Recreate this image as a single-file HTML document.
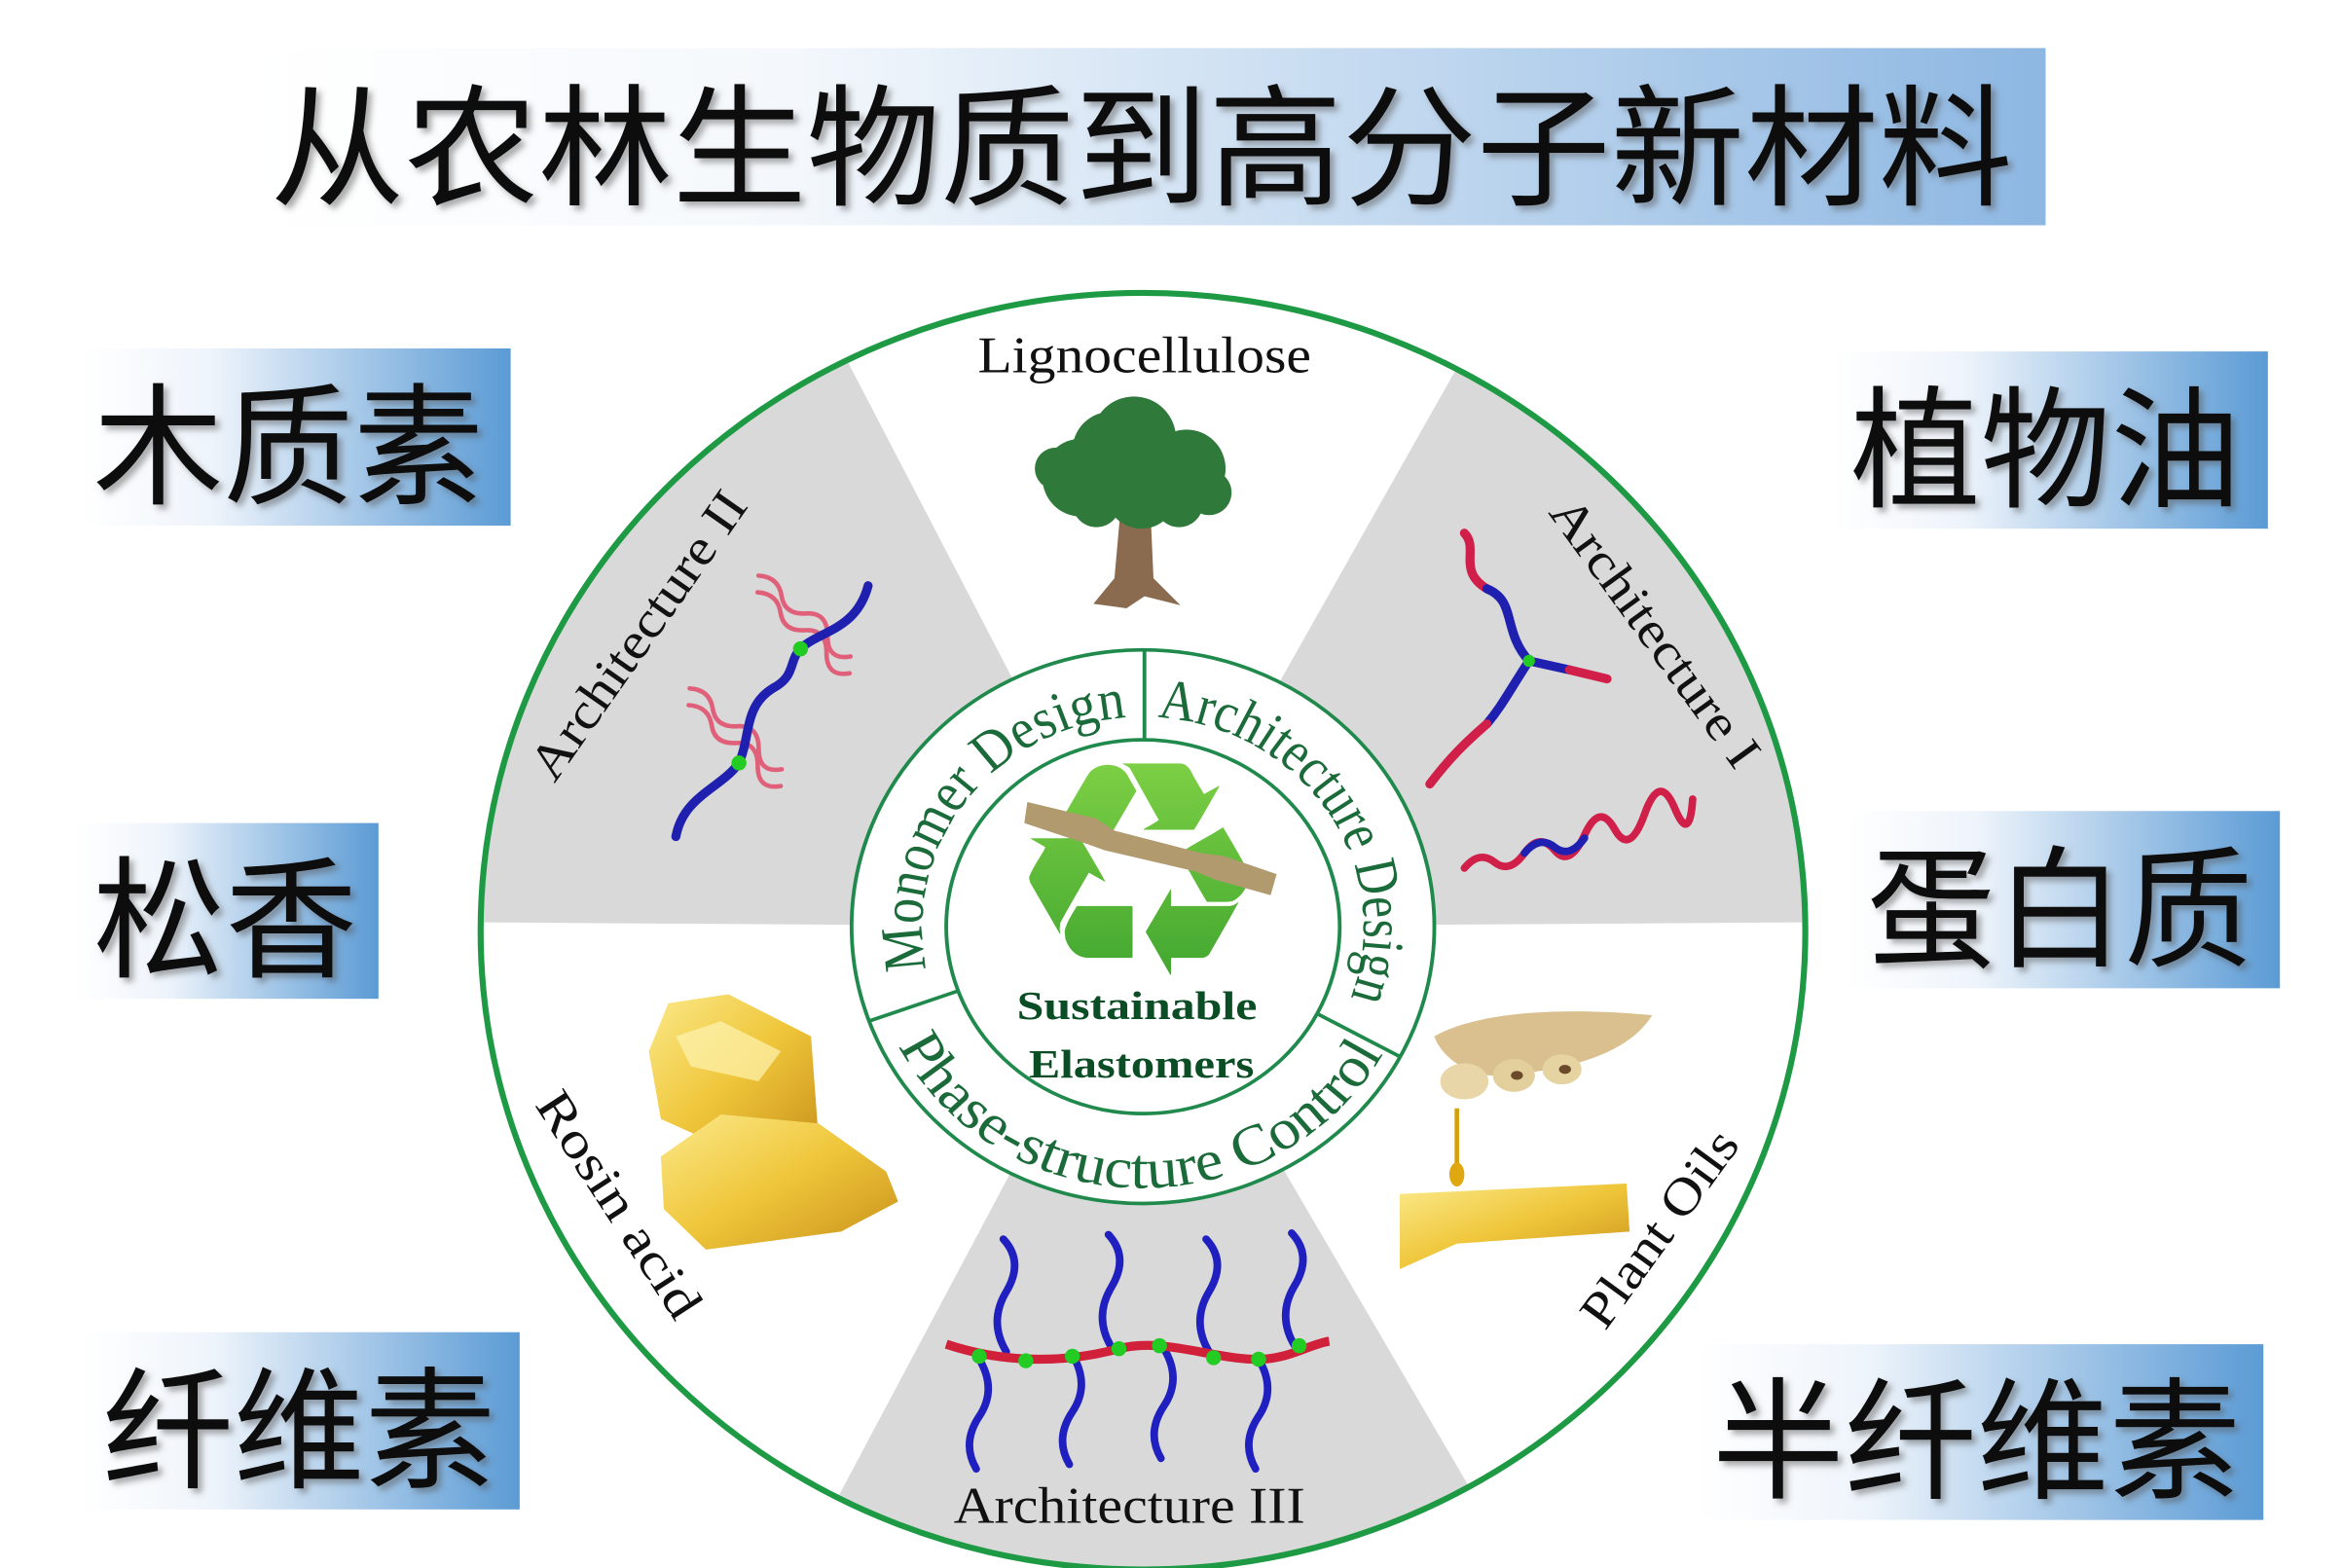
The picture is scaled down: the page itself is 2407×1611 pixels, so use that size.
<!DOCTYPE html>
<html><head><meta charset="utf-8"><style>
html,body{margin:0;padding:0;background:#fff;}
svg{display:block;}
</style></head><body>
<svg width="2407" height="1611" viewBox="0 0 1560 1044" preserveAspectRatio="none" xmlns="http://www.w3.org/2000/svg">
<defs>
<linearGradient id="gt" x1="0" x2="1" y1="0" y2="0"><stop offset="0" stop-color="#fff"/><stop offset="0.3" stop-color="#f4f8fc"/><stop offset="1" stop-color="#8db7e2"/></linearGradient>
<linearGradient id="gb" x1="0" x2="1" y1="0" y2="0"><stop offset="0" stop-color="#fff"/><stop offset="0.3" stop-color="#eef4fb"/><stop offset="1" stop-color="#5b9bd5"/></linearGradient>
<linearGradient id="gr" x1="0" x2="0" y1="0" y2="1"><stop offset="0" stop-color="#8fdc4a"/><stop offset="1" stop-color="#2f9a2a"/></linearGradient>
<linearGradient id="gy" x1="0" x2="1" y1="0" y2="1"><stop offset="0" stop-color="#fbe98a"/><stop offset="0.5" stop-color="#efc63a"/><stop offset="1" stop-color="#c8901a"/></linearGradient>
<filter id="sh" x="-10%" y="-10%" width="130%" height="130%"><feDropShadow dx="3" dy="3" stdDeviation="2" flood-color="#555" flood-opacity="0.5"/></filter>
<clipPath id="cc"><ellipse cx="761" cy="620" rx="441" ry="425"/></clipPath>
</defs>

<!-- title -->
<rect x="170" y="32" width="1192" height="118" fill="url(#gt)"/>
<text x="180" y="92" font-family="Noto Sans CJK SC, sans-serif" font-size="88" textLength="1160" lengthAdjust="spacingAndGlyphs" dominant-baseline="central" fill="#111" filter="url(#sh)">从农林生物质到高分子新材料</text>

<!-- side boxes -->
<g fill="url(#gb)">
<rect x="55" y="232" width="285" height="118"/>
<rect x="1220" y="234" width="290" height="118"/>
<rect x="50" y="548" width="202" height="117"/>
<rect x="1230" y="540" width="288" height="118"/>
<rect x="55" y="887" width="291" height="118"/>
<rect x="1130" y="895" width="377" height="117"/>
</g>
<g font-family="Noto Sans CJK SC, sans-serif" font-size="88" fill="#111" filter="url(#sh)" lengthAdjust="spacingAndGlyphs" dominant-baseline="central">
<text x="62" y="291" textLength="260" lengthAdjust="spacingAndGlyphs" dominant-baseline="central">木质素</text>
<text x="1232" y="293" textLength="260" lengthAdjust="spacingAndGlyphs" dominant-baseline="central">植物油</text>
<text x="62" y="606" textLength="176" lengthAdjust="spacingAndGlyphs" dominant-baseline="central">松香</text>
<text x="1243" y="599" textLength="257" lengthAdjust="spacingAndGlyphs" dominant-baseline="central">蛋白质</text>
<text x="68" y="946" textLength="262" lengthAdjust="spacingAndGlyphs" dominant-baseline="central">纤维素</text>
<text x="1140" y="953" textLength="352" lengthAdjust="spacingAndGlyphs" dominant-baseline="central">半纤维素</text>
</g>

<!-- big circle -->
<ellipse cx="761" cy="620" rx="441" ry="425" fill="#fff"/>
<g clip-path="url(#cc)" fill="#d9d9d9">
<polygon points="760,617 300,614 300,180 538,190"/>
<polygon points="760,617 1001,190 1220,190 1220,614"/>
<polygon points="760,617 519,1070 1025,1070"/>
</g>
<ellipse cx="761" cy="620" rx="441" ry="425" fill="none" stroke="#1e9a45" stroke-width="4"/>

<!-- outer labels -->
<g font-family="Liberation Serif, serif" font-size="34" fill="#111" dominant-baseline="central" text-anchor="middle">
<text x="762" y="237" textLength="222" lengthAdjust="spacingAndGlyphs">Lignocellulose</text>
<text transform="translate(425,423) rotate(-55)" textLength="226" lengthAdjust="spacingAndGlyphs">Architecture II</text>
<text transform="translate(1102,421) rotate(54)" textLength="213" lengthAdjust="spacingAndGlyphs">Architecture I</text>
<text transform="translate(412,802) rotate(57)" textLength="173" lengthAdjust="spacingAndGlyphs">Rosin acid</text>
<text transform="translate(1105,818) rotate(-54)" textLength="154" lengthAdjust="spacingAndGlyphs">Plant Oils</text>
<text x="752" y="1003" textLength="234" lengthAdjust="spacingAndGlyphs">Architecture III</text>
</g>

<!-- tree -->
<polygon points="746,340 766,340 768,385 786,403 762,397 750,405 728,402 742,385" fill="#8b6b50"/>
<g fill="#2f7a3a">
<circle cx="720" cy="318" r="26"/><circle cx="755" cy="292" r="28"/><circle cx="790" cy="312" r="26"/>
<circle cx="740" cy="300" r="26"/><circle cx="703" cy="312" r="14"/><circle cx="805" cy="328" r="15"/>
<circle cx="760" cy="328" r="24"/><circle cx="730" cy="335" r="16"/><circle cx="785" cy="335" r="16"/>
</g>

<!-- Architecture II molecule -->
<g fill="none" stroke-linecap="round">
<path d="M485,402 q12,-6 20,4 t20,2 t20,6 t20,4 M490,412 q12,-6 20,4 t20,2 t20,6 t20,4" stroke="#e0607a" stroke-width="3" transform="rotate(30 530 430)"/>
<path d="M440,480 q12,-6 20,4 t20,2 t20,6 t20,4 M445,490 q12,-6 20,4 t20,2 t20,6 t20,4" stroke="#e0607a" stroke-width="3" transform="rotate(30 490 505)"/>
<path d="M450,557 C455,530 480,525 492,508 C500,490 495,470 515,458 C530,450 525,440 533,432 C545,420 570,420 578,390" stroke="#2020b0" stroke-width="6"/>
</g>
<circle cx="492" cy="508" r="5" fill="#2c2"/><circle cx="533" cy="432" r="5" fill="#2c2"/>

<!-- Architecture I molecule -->
<g fill="none" stroke-linecap="round" stroke-width="6">
<path d="M975,355 C985,365 970,380 990,392" stroke="#d0204a"/>
<path d="M990,392 C1010,400 1000,420 1018,440" stroke="#2020b0"/>
<path d="M1018,440 L1045,446" stroke="#2020b0"/><path d="M1045,446 L1070,452" stroke="#d0204a"/>
<path d="M1018,440 C1005,460 1000,470 990,482" stroke="#2020b0"/>
<path d="M990,482 C975,495 965,505 952,522" stroke="#d0204a"/>
<path d="M975,578 q10,-12 20,-4 t20,-6 t20,-2 t20,-10 t20,-4 t20,-10 t20,-4 t12,-6" stroke="#d0204a" stroke-width="5"/>
<path d="M1015,568 q10,-12 20,-4 t20,-6" stroke="#2020b0" stroke-width="5"/>
</g>
<circle cx="1018" cy="440" r="4" fill="#2c2"/>

<!-- Architecture III comb -->
<g fill="none" stroke="#2020c0" stroke-width="5" stroke-linecap="round">
<path d="M670,900 q-12,-20 0,-40 t-2,-35"/><path d="M740,897 q-12,-20 0,-40 t-2,-35"/>
<path d="M805,900 q-12,-20 0,-40 t-2,-35"/><path d="M862,896 q-12,-20 0,-40 t-2,-35"/>
<path d="M652,905 q12,20 0,38 t-2,35"/><path d="M714,902 q12,20 0,38 t-2,35"/>
<path d="M775,898 q12,20 0,38 t-2,35"/><path d="M838,905 q12,20 0,38 t-2,35"/>
</g>
<path d="M630,895 C660,905 700,910 745,898 C775,890 810,906 840,905 C860,904 872,895 885,893" fill="none" stroke="#d0203a" stroke-width="6"/>
<g fill="#2c2"><circle cx="652" cy="903" r="5"/><circle cx="683" cy="906" r="5"/><circle cx="714" cy="903" r="5"/><circle cx="745" cy="898" r="5"/><circle cx="772" cy="896" r="5"/><circle cx="808" cy="904" r="5"/><circle cx="838" cy="905" r="5"/><circle cx="865" cy="896" r="5"/></g>

<!-- rosin -->
<polygon points="432,700 445,668 485,662 540,690 545,758 500,772 440,745" fill="url(#gy)"/>
<polygon points="440,770 480,742 545,748 590,780 598,800 560,820 470,832 442,805" fill="url(#gy)"/>
<polygon points="450,690 480,680 520,700 505,720 460,710" fill="#fdf3b0" opacity="0.7"/>

<!-- soy & oil -->
<path d="M955,690 C990,670 1060,672 1100,676 C1085,700 1050,712 1000,716 C980,718 960,705 955,690 Z" fill="#d9c08e"/>
<ellipse cx="975" cy="720" rx="16" ry="12" fill="#e8d6a8"/><ellipse cx="1008" cy="716" rx="14" ry="11" fill="#e2cf9c"/><ellipse cx="1040" cy="712" rx="13" ry="10" fill="#e5d3a2"/>
<ellipse cx="1010" cy="716" rx="4" ry="3" fill="#6a4a2a"/><ellipse cx="1042" cy="712" rx="4" ry="3" fill="#6a4a2a"/>
<path d="M970,738 L970,775" stroke="#d4a010" stroke-width="3"/><ellipse cx="970" cy="782" rx="5" ry="8" fill="#e0a810"/>
<polygon points="932,795 1083,788 1085,820 970,828 932,845" fill="url(#gy)"/>

<!-- inner ring -->
<g transform="translate(761,617) scale(1,0.95)">
<circle r="194" fill="#fff" stroke="#1f8a4c" stroke-width="2.5"/>
<circle r="131" fill="#fff" stroke="#1f8a4c" stroke-width="2.5"/>
<g stroke="#1f8a4c" stroke-width="2.5">
<line x1="1" y1="-131" x2="1" y2="-194"/>
<line x1="-123" y1="45" x2="-182" y2="66"/>
<line x1="116" y1="61" x2="171" y2="91"/>
</g>
<path id="pm" d="M-143.2,33.1 A147,147 0 0 1 -7.7,-146.8" fill="none"/>
<path id="pa" d="M7.7,-146.8 A147,147 0 0 1 137.6,51.7" fill="none"/>
<path id="pp" d="M-168.5,71.5 A183,183 0 0 0 165.9,77.3" fill="none"/>
<g font-family="Liberation Serif, serif" font-size="40" fill="#1b6b3a" text-anchor="middle">
<text><textPath href="#pm" startOffset="50%" textLength="250" lengthAdjust="spacingAndGlyphs">Monomer Design</textPath></text>
<text><textPath href="#pa" startOffset="50%" textLength="272" lengthAdjust="spacingAndGlyphs">Architecture Design</textPath></text>
<text><textPath href="#pp" startOffset="50%" textLength="395" lengthAdjust="spacingAndGlyphs">Phase-structure Control</textPath></text>
</g>
</g>

<!-- recycle -->
<text x="758" y="580" font-family="DejaVu Sans, sans-serif" font-size="200" fill="url(#gr)" text-anchor="middle" dominant-baseline="central">♻</text>
<polygon points="684,534 730,545 742,553 800,568 815,570 850,582 846,596 810,586 795,580 735,566 724,562 682,548" fill="#b09a6e"/>
<g font-family="Liberation Serif, serif" font-weight="bold" font-size="27" fill="#0b4d25" text-anchor="middle" dominant-baseline="central">
<text x="757" y="670" textLength="160" lengthAdjust="spacingAndGlyphs">Sustainable</text>
<text x="760" y="709" textLength="150" lengthAdjust="spacingAndGlyphs">Elastomers</text>
</g>
</svg>
</body></html>
